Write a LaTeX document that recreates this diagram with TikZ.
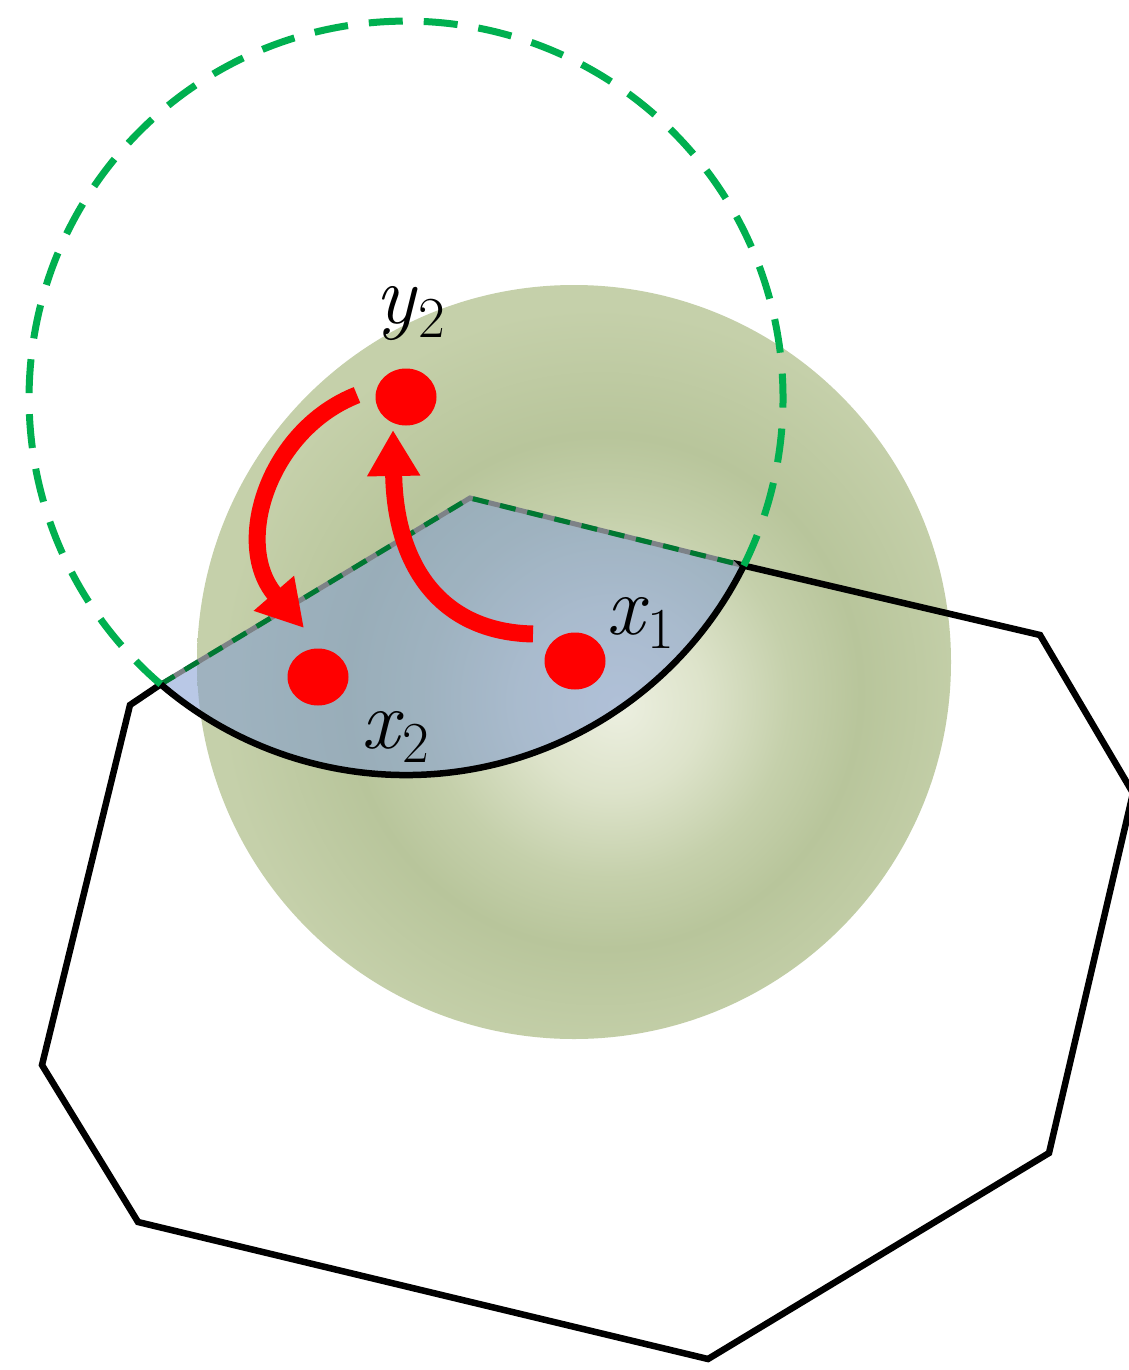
\documentclass[tikz,border=0pt]{standalone}
\usepackage{fontspec}
\usetikzlibrary{arrows.meta,shapes.geometric}
\definecolor{dashgreen}{RGB}{0,176,80}
\definecolor{edgegreen}{RGB}{0,120,50}
\definecolor{edgegray}{RGB}{125,130,135}
\definecolor{regionblue}{RGB}{128,155,210}
\definecolor{dotred}{RGB}{255,0,0}
\definecolor{sg0}{RGB}{236,239,224}
\definecolor{sg1}{RGB}{221,227,202}
\definecolor{sg2}{RGB}{197,208,171}
\definecolor{sg3}{RGB}{184,197,155}
\definecolor{sg4}{RGB}{197,208,170}
\pgfdeclareradialshading{sphereglow}{\pgfpoint{3bp}{-3bp}}{%
 color(0bp)=(sg0);
 color(6bp)=(sg1);
 color(12bp)=(sg2);
 color(17bp)=(sg3);
 color(25bp)=(sg4);
 color(50bp)=(sg4)}
\newcommand{\sublab}[2]{{\itshape #1}\kern3pt\raisebox{-14pt}{\upshape\fontsize{58}{64}\selectfont #2}}
\tikzset{
  reddot/.style={ellipse, fill=dotred, draw=none, inner sep=0pt, minimum width=61pt, minimum height=57pt},
  redarrow/.style={draw=dotred, line width=17pt, -{Triangle[length=46pt,width=50pt]}},
  lab/.style={inner sep=0pt, font=\fontsize{84}{96}\selectfont},
  polyline/.style={draw=black, line width=6.5pt},
  circdash/.style={draw=dashgreen, line width=7pt, dash pattern=on 34pt off 21pt},
}
\begin{document}
\begin{tikzpicture}[x=1pt,y=-1pt]
\useasboundingbox[fill=white] (0,0) rectangle (1128,1370);
% sphere
\shade[shading=sphereglow] (574,662) circle[radius=377];
% key points on the circle
\coordinate (P1) at (160.7,684.3);
\coordinate (P2) at (743.6,565.6);
\coordinate (Ptop) at (470,498);
% blue region
\fill[regionblue, fill opacity=0.55] (P1) -- (Ptop) -- (P2) arc[start angle=26.4, end angle=130.6, radius=377] -- cycle;
\draw[edgegray, line width=5pt] (P1) -- (Ptop) -- (P2);
\draw[edgegreen, line width=5pt, dash pattern=on 16pt off 12pt] (P1) -- (Ptop) -- (P2);
% polygon and arc
\draw[polyline] (P2) -- (1040,635) -- (1133,793) -- (1049,1153) -- (708,1359) -- (138,1222) -- (42,1065) -- (130,705) -- (P1) arc[start angle=130.6, end angle=26.4, radius=377] -- cycle;
% dashed circle
\draw[circdash] (P1) arc[start angle=130.6, end angle=386.4, radius=377];
% dots
\node[reddot] (x1dot) at (575,661) {};
\node[reddot] (x2dot) at (318,677) {};
\node[reddot] (y2dot) at (406,397) {};
% arrows
\coordinate (a1s) at (533,634);
\coordinate (a1e) at (393,430);
\draw[redarrow] (a1s) .. controls (440,632) and (395,565) .. (a1e);
\coordinate (a2s) at (357,395);
\coordinate (a2e) at (304,628);
\draw[redarrow] (a2s) .. controls (268,430) and (232,545) .. (a2e);
% labels
\node[lab, anchor=base west] (lx1) at (606,634) {\sublab{x}{1}};
\node[lab, anchor=base west] (lx2) at (361,748) {\sublab{x}{2}};
\node[lab, anchor=base west] (ly2) at (375,323) {\sublab{y}{2}};
\end{tikzpicture}
\end{document}
